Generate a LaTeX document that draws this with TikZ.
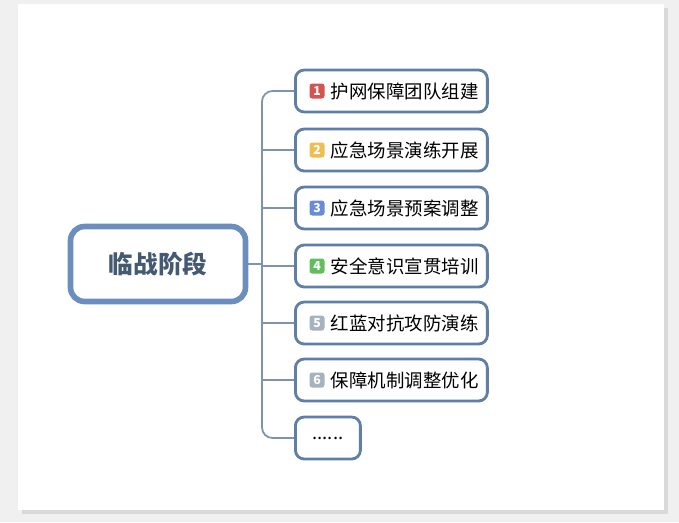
\documentclass[tikz,border=0pt]{standalone}
\usepackage{fontspec}
\setmainfont{Noto Sans CJK SC}
\definecolor{frameblue}{HTML}{6C8EBF}
\definecolor{linegray}{HTML}{7D93AE}
\definecolor{boxblue}{HTML}{5F7FA6}
\definecolor{badgered}{HTML}{D45450}
\definecolor{badgeyellow}{HTML}{EEBE50}
\definecolor{badgeblue}{HTML}{688CD6}
\definecolor{badgegreen}{HTML}{60BE60}
\definecolor{badgegray}{HTML}{A6B2BE}
\tikzset{
  leaf/.style={draw=boxblue, line width=1.6pt, rounded corners=5pt, fill=white, minimum height=0.84cm, anchor=west, font=\fontsize{10.5}{10.5}\selectfont},
  badge/.style={fill=#1, rounded corners=1.5pt, text=white, font=\fontsize{7}{7}\selectfont\bfseries, minimum size=0.3cm, inner sep=0pt},
  branch/.style={draw=linegray, line width=1pt, rounded corners=6pt}
}
\begin{document}
\begin{tikzpicture}[x=0.02cm,y=-0.02cm]
	\useasboundingbox (0,0) rectangle (679,522);
	\fill[gray!12] (0,0) rectangle (679,522);
	\fill[gray!30] (22,8) rectangle (668,514);
	\fill[white] (18,4) rectangle (664,510);

	\node[draw=frameblue, line width=3.2pt, rounded corners=8pt, minimum width=3.5cm, minimum height=1.5cm, font=\fontsize{14}{14}\selectfont\bfseries, text=boxblue!70!black] (M) at (158,264) {临战阶段};

		\node[leaf, minimum width=3.84cm, text width=3.5cm, align=left] (L1) at (294,91) {\hspace{0.54cm}护网保障团队组建};
		\node[leaf, minimum width=3.84cm, text width=3.5cm, align=left] (L2) at (294,150) {\hspace{0.54cm}应急场景演练开展};
		\node[leaf, minimum width=3.84cm, text width=3.5cm, align=left] (L3) at (294,208) {\hspace{0.54cm}应急场景预案调整};
		\node[leaf, minimum width=3.84cm, text width=3.5cm, align=left] (L4) at (294,266) {\hspace{0.54cm}安全意识宣贯培训};
		\node[leaf, minimum width=3.84cm, text width=3.5cm, align=left] (L5) at (294,323) {\hspace{0.54cm}红蓝对抗攻防演练};
		\node[leaf, minimum width=3.84cm, text width=3.5cm, align=left] (L6) at (294,380) {\hspace{0.54cm}保障机制调整优化};
		\node[leaf, minimum width=1.3cm] (L7) at (294,438) {......};

		\node[badge=badgered] (B1) at (317,91) {1};
		\node[badge=badgeyellow] (B2) at (317,150) {2};
		\node[badge=badgeblue] (B3) at (317,208) {3};
		\node[badge=badgegreen] (B4) at (317,266) {4};
		\node[badge=badgegray] (B5) at (317,323) {5};
		\node[badge=badgegray] (B6) at (317,380) {6};

	\coordinate (T) at (262,264);
	\draw[branch] (M.east) -- (T);
	\draw[branch] (L1.west) -| (T) |- (L7.west);
	\foreach \n in {2,...,6}
		\draw[branch] (L\n.west) -- (L\n.west -| T);
\end{tikzpicture}
\end{document}
